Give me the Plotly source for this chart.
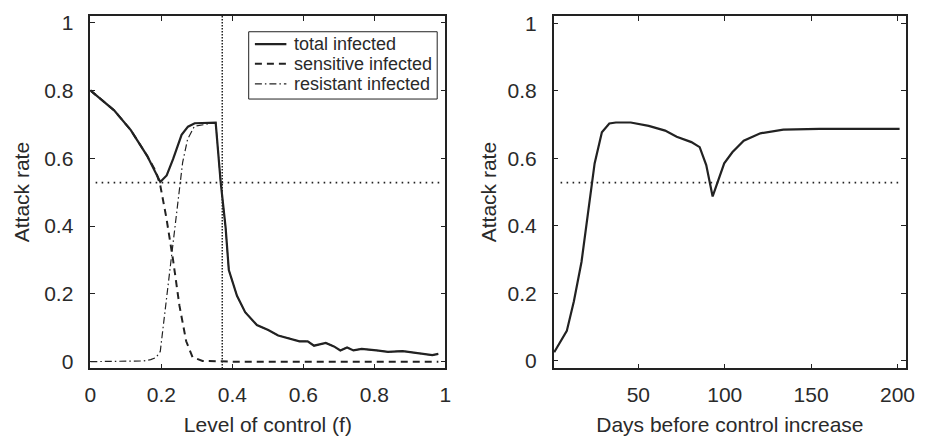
import plotly.graph_objects as go

# ---------------- data ----------------
# Left panel: attack rate vs level of control f
f_total = [0.0, 0.067, 0.114, 0.16, 0.197, 0.215, 0.233, 0.257, 0.275, 0.294, 0.353,
           0.367, 0.381, 0.39, 0.413, 0.436, 0.469, 0.501, 0.529, 0.566, 0.589, 0.612,
           0.63, 0.663, 0.686, 0.704, 0.723, 0.741, 0.764, 0.806, 0.838, 0.88, 0.935,
           0.963, 0.98]
total_infected = [0.80, 0.741, 0.683, 0.607, 0.530, 0.549, 0.597, 0.669, 0.693, 0.703, 0.705,
                  0.53, 0.395, 0.27, 0.194, 0.146, 0.108, 0.093, 0.077, 0.067, 0.06, 0.06,
                  0.047, 0.055, 0.045, 0.033, 0.042, 0.033, 0.0375, 0.033, 0.029, 0.031, 0.023,
                  0.019, 0.023]

f_sens = [0.0, 0.067, 0.114, 0.16, 0.185, 0.197, 0.214, 0.233, 0.251, 0.27, 0.288, 0.316,
          0.4, 0.6, 0.8, 0.98]
sensitive_infected = [0.80, 0.741, 0.683, 0.607, 0.56, 0.52, 0.425, 0.30, 0.165, 0.06, 0.013, 0.002,
                      0.0, 0.0, 0.0, 0.0]

f_res = [0.0, 0.1, 0.15, 0.17, 0.185, 0.197, 0.219, 0.233, 0.247, 0.26, 0.274, 0.293, 0.353,
         0.367, 0.381, 0.39, 0.413, 0.436, 0.469, 0.501, 0.529, 0.566, 0.589, 0.612,
         0.63, 0.663, 0.686, 0.704, 0.723, 0.741, 0.764, 0.806, 0.838, 0.88, 0.935,
         0.963, 0.98]
resistant_infected = [0.0, 0.0, 0.002, 0.006, 0.012, 0.03, 0.233, 0.348, 0.473, 0.588, 0.656, 0.694, 0.705,
                      0.53, 0.395, 0.27, 0.194, 0.146, 0.108, 0.093, 0.077, 0.067, 0.06, 0.06,
                      0.047, 0.055, 0.045, 0.033, 0.042, 0.033, 0.0375, 0.033, 0.029, 0.031, 0.023,
                      0.019, 0.023]

# Right panel: attack rate vs days before control increase
days = [1.3, 8.6, 12.7, 17.1, 20.9, 24.7, 28.9, 33.2, 37, 45.6, 56, 65.5, 72.2, 80.7,
        85.5, 89.3, 93, 95.9, 99.7, 104.4, 111, 120.6, 133.9, 154.8, 174, 192.7, 201.2]
attack_days = [0.026, 0.089, 0.177, 0.293, 0.439, 0.585, 0.677, 0.703, 0.706, 0.706, 0.696,
               0.682, 0.664, 0.648, 0.633, 0.58, 0.487, 0.531, 0.585, 0.618, 0.652, 0.674,
               0.685, 0.687, 0.687, 0.689, 0.687]

# Reference levels
threshold_attack = 0.528
threshold_f = 0.3715
hline_f_span = [0.015, 0.985]
hline_days_span = [5, 202]

left_xticks = [0, 0.2, 0.4, 0.6, 0.8, 1]
yticks = [0, 0.2, 0.4, 0.6, 0.8, 1]
right_xticks = [50, 100, 150, 200]

legend_names = ["total infected", "sensitive infected", "resistant infected"]

# ---------------- styles ----------------
INK = "#222222"
TXT = "#2a2a2a"
FONT = "Liberation Sans, Arial, Helvetica, sans-serif"
W, H = 925, 440
DOT_H = "1.6px,4.4px"
DOT_V = "1.5px,1.5px"
DASH = "7px,5px"
DASHDOT = "7px,3px,1.5px,3px"
legend_styles = [dict(width=2.2, dash="solid"), dict(width=2, dash=DASH), dict(width=1.2, dash=DASHDOT)]

fig = go.Figure()

fig.add_trace(go.Scatter(x=hline_f_span, y=[threshold_attack, threshold_attack], mode="lines",
                         line=dict(color=INK, width=1.6, dash=DOT_H),
                         showlegend=False, hoverinfo="skip", xaxis="x", yaxis="y"))
fig.add_trace(go.Scatter(x=[threshold_f, threshold_f], y=[-0.02, 1.02], mode="lines",
                         line=dict(color=INK, width=1.5, dash=DOT_V),
                         showlegend=False, hoverinfo="skip", xaxis="x", yaxis="y"))

fig.add_trace(go.Scatter(x=f_res, y=resistant_infected, mode="lines", name=legend_names[2],
                         line=dict(color=INK, **legend_styles[2]), showlegend=False,
                         xaxis="x", yaxis="y"))
fig.add_trace(go.Scatter(x=f_sens, y=sensitive_infected, mode="lines", name=legend_names[1],
                         line=dict(color=INK, **legend_styles[1]), showlegend=False,
                         xaxis="x", yaxis="y"))
fig.add_trace(go.Scatter(x=f_total, y=total_infected, mode="lines", name=legend_names[0],
                         line=dict(color=INK, **legend_styles[0]), showlegend=False,
                         xaxis="x", yaxis="y"))

fig.add_trace(go.Scatter(x=hline_days_span, y=[threshold_attack, threshold_attack], mode="lines",
                         line=dict(color=INK, width=1.6, dash=DOT_H),
                         showlegend=False, hoverinfo="skip", xaxis="x2", yaxis="y2"))
fig.add_trace(go.Scatter(x=days, y=attack_days, mode="lines", showlegend=False,
                         line=dict(color=INK, width=2.2), xaxis="x2", yaxis="y2"))

# ---------------- legend (drawn box) ----------------
shapes = [dict(type="rect", xref="paper", yref="paper",
               x0=246.7 / W, x1=438.3 / W, y0=1 - 96 / H, y1=1 - 27.3 / H,
               line=dict(color=INK, width=1), fillcolor="white", layer="above")]
annotations = []
row_y = [40, 60, 80.5]
for name, sty, ry in zip(legend_names, legend_styles, row_y):
    shapes.append(dict(type="line", xref="paper", yref="paper",
                       x0=253 / W, x1=285 / W, y0=1 - ry / H, y1=1 - ry / H,
                       line=dict(color=INK, width=sty["width"], dash=sty["dash"]), layer="above"))
    annotations.append(dict(text=name, xref="paper", yref="paper", x=290.5 / W, y=1 - ry / H,
                            xanchor="left", yanchor="middle", showarrow=False,
                            font=dict(family=FONT, size=18, color=TXT)))

axis_common = dict(showline=True, linecolor=INK, linewidth=1.5, mirror="ticks",
                   ticks="inside", ticklen=5, tickwidth=1, tickcolor=INK,
                   showgrid=False, zeroline=False,
                   tickfont=dict(family=FONT, size=21, color=TXT))
title_font = dict(family=FONT, size=21, color=TXT)

top = 1 - 11 / H
bottom = 1 - 371 / H

fig.update_layout(
    width=W, height=H,
    margin=dict(l=0, r=0, t=0, b=0),
    paper_bgcolor="white", plot_bgcolor="white",
    font=dict(family=FONT, color=TXT),
    xaxis=dict(axis_common, domain=[85.7 / W, 446.7 / W], range=[0, 1],
               tickvals=left_xticks, anchor="y", ticklabelstandoff=7,
               title=dict(text="Level of control (f)", font=title_font, standoff=12)),
    yaxis=dict(axis_common, domain=[bottom, top], range=[-0.02, 1.02],
               tickvals=yticks, anchor="x", ticklabelstandoff=11,
               title=dict(text="Attack rate", font=title_font, standoff=9)),
    xaxis2=dict(axis_common, domain=[556.7 / W, 915 / W], range=[1, 205],
                tickvals=right_xticks, anchor="y2", ticklabelstandoff=7,
                title=dict(text="Days before control increase", font=title_font, standoff=12)),
    yaxis2=dict(axis_common, domain=[bottom, top], range=[-0.022, 1.022],
                tickvals=yticks, anchor="x2", ticklabelstandoff=11,
                title=dict(text="Attack rate", font=title_font, standoff=5)),
    shapes=shapes,
    annotations=annotations,
    showlegend=False,
)

fig.write_html("out.html")
